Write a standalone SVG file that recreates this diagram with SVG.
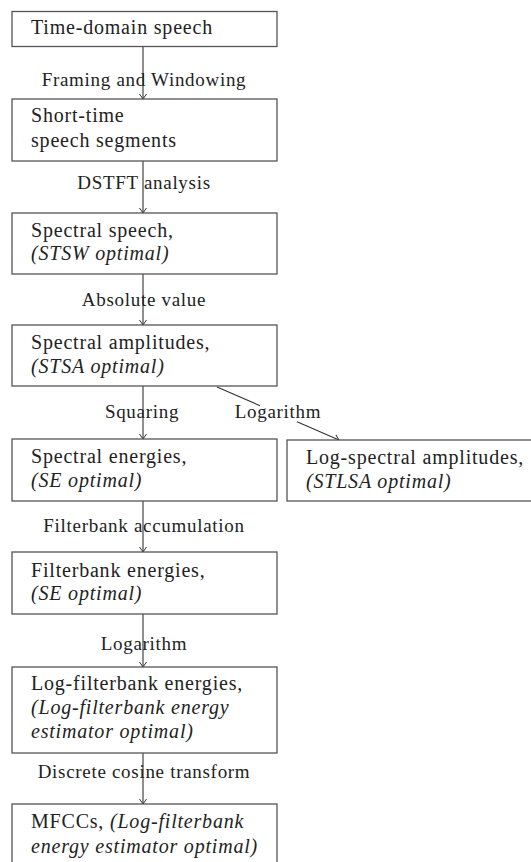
<svg xmlns="http://www.w3.org/2000/svg" width="531" height="862" viewBox="0 0 531 862" font-family="Liberation Serif, DejaVu Serif, Times New Roman, serif">
<defs>
<style>
.box{fill:#fff;stroke:#555;stroke-width:1.3}
.t{font-size:20px;fill:#222;letter-spacing:0.8px}
.i{font-style:italic}
.lbl{font-size:19px;fill:#222;letter-spacing:0.7px;text-anchor:middle}
.lnk{fill:none;stroke:#333;stroke-width:1.1;marker-end:url(#arr)}
</style>
<marker id="arr" markerUnits="userSpaceOnUse" markerWidth="12" markerHeight="12" viewBox="-6 -6 12 12" refX="0" refY="0" orient="auto">
<path d="M-5,-3.5 Q-1.5,-1 0,0 Q-1.5,1 -5,3.5" fill="none" stroke="#333" stroke-width="1"/>
</marker>
</defs>
<rect width="531" height="862" fill="#fff"/>
<g id="connectors" font-family="Liberation Serif, DejaVu Serif, serif">
<path class="lnk" d="M143,47 L143,99"/>
<path class="lnk" d="M143,161 L143,213"/>
<path class="lnk" d="M143,274 L143,325"/>
<path class="lnk" d="M143,386 L143,439"/>
<path class="lnk" d="M217,387 L260,405.7 M297,421.7 L339,440"/>
<path class="lnk" d="M143,501 L143,552"/>
<path class="lnk" d="M143,614 L143,667"/>
<path class="lnk" d="M143,753 L143,804"/>
<text class="lbl" x="144" y="86">Framing and Windowing</text>
<text class="lbl" x="144" y="189">DSTFT analysis</text>
<text class="lbl" x="144" y="306">Absolute value</text>
<text class="lbl" x="142" y="418">Squaring</text>
<text class="lbl" x="278" y="418">Logarithm</text>
<text class="lbl" x="144" y="532">Filterbank accumulation</text>
<text class="lbl" x="144" y="650">Logarithm</text>
<text class="lbl" x="144" y="778">Discrete cosine transform</text>
</g>
<g id="n1">
<rect class="box" x="12" y="11.5" width="265" height="35"/>
<text class="t" x="31" y="34">Time-domain speech</text>
</g>
<g id="n2">
<rect class="box" x="12" y="99" width="265" height="62"/>
<text class="t" x="31" y="122">Short-time</text>
<text class="t" x="31" y="147">speech segments</text>
</g>
<g id="n3">
<rect class="box" x="12" y="213" width="265" height="61"/>
<text class="t" x="31" y="237">Spectral speech,</text>
<text class="t i" x="31" y="260">(STSW optimal)</text>
</g>
<g id="n4">
<rect class="box" x="12" y="325" width="265" height="61"/>
<text class="t" x="31" y="349">Spectral amplitudes,</text>
<text class="t i" x="31" y="373">(STSA optimal)</text>
</g>
<g id="n5">
<rect class="box" x="12" y="439" width="265" height="62"/>
<text class="t" x="31" y="463">Spectral energies,</text>
<text class="t i" x="31" y="487">(SE optimal)</text>
</g>
<g id="n9">
<rect class="box" x="287" y="440" width="260" height="61"/>
<text class="t" x="306" y="464">Log-spectral amplitudes,</text>
<text class="t i" x="306" y="488">(STLSA optimal)</text>
</g>
<g id="n6">
<rect class="box" x="12" y="552" width="265" height="62"/>
<text class="t" x="31" y="577">Filterbank energies,</text>
<text class="t i" x="31" y="600">(SE optimal)</text>
</g>
<g id="n7">
<rect class="box" x="12" y="667" width="265" height="86"/>
<text class="t" x="31" y="690">Log-filterbank energies,</text>
<text class="t i" x="31" y="714">(Log-filterbank energy</text>
<text class="t i" x="31" y="738">estimator optimal)</text>
</g>
<g id="n8">
<rect class="box" x="12" y="804" width="265" height="70"/>
<text class="t" x="31" y="828">MFCCs, <tspan class="i">(Log-filterbank</tspan></text>
<text class="t i" x="31" y="853">energy estimator optimal)</text>
</g>
</svg>
